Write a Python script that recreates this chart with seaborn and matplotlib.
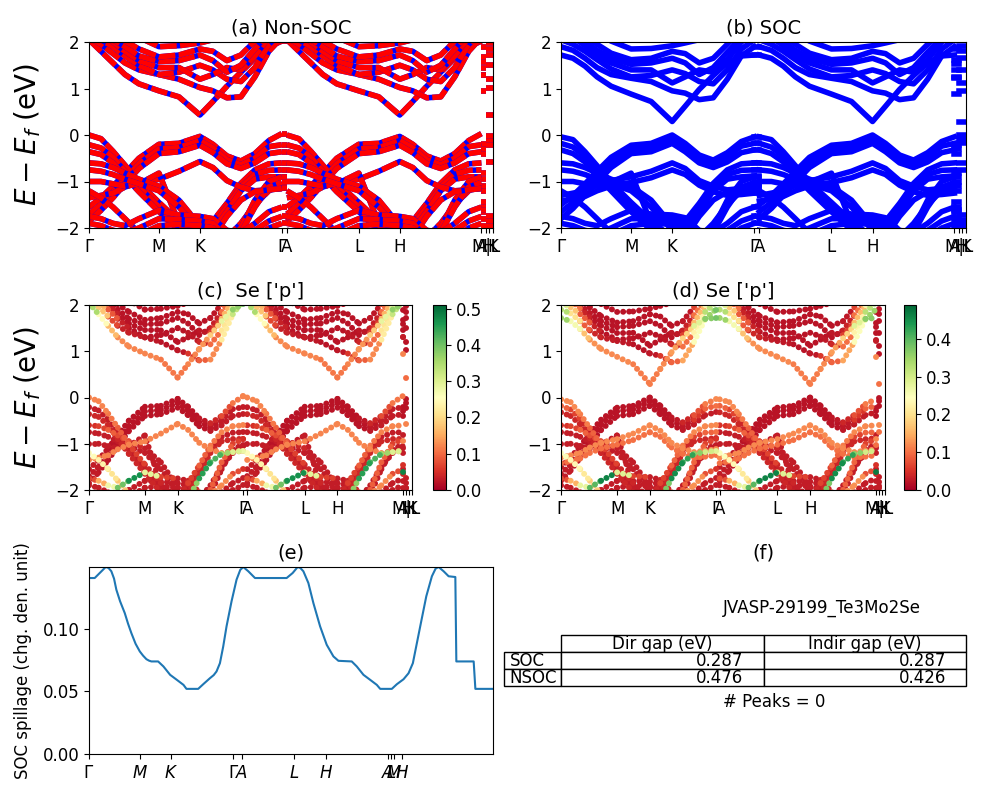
import numpy as np
import matplotlib
matplotlib.use("Agg")
import matplotlib.pyplot as plt
import seaborn as sns
from matplotlib.collections import LineCollection
from matplotlib.table import Table
from matplotlib.colors import Normalize
from matplotlib.cm import ScalarMappable

plt.rcParams['font.family'] = ['DejaVu Sans']
plt.rcParams['mathtext.fontset'] = 'dejavusans'

# ---------------- k-path (distance units) ----------------
K_SEG1 = [0, 12, 24, 36, 50, 70, 90, 111, 124, 138, 152, 166, 180, 193]          # G-M-K-G
K_SEG2 = [198, 210, 222, 234, 248, 270, 290, 311, 324, 338, 352, 366, 380, 392.7]  # A-L-H-A
GA_STUB = [193, 198]
STUB_LM = [392.7, 397.0]
STUB_KH = [397.0, 404.3]
M_IDX, K_IDX = 5, 7
BAND_TICKS = [0, 70, 111, 193, 198, 270, 311, 392.7, 397.0, 400.3, 404.3]
BAND_TICK_LABELS = ['Γ', 'M', 'K', 'Γ', 'A', 'L', 'H', 'A', 'M|L', 'H', 'K']

# ---------------- Non-SOC bands (eV) ----------------
NSOC_COND = [
    [2.05, 1.80, 1.55, 1.30, 1.10, 0.95, 0.82, 0.43, 0.72, 1.05, 1.35, 1.65, 1.90, 2.02],
    [2.10, 1.95, 1.75, 1.55, 1.40, 1.30, 1.20, 1.02, 0.95, 0.80, 0.82, 1.25, 1.80, 2.10],
    [2.20, 2.05, 1.90, 1.70, 1.50, 1.30, 1.35, 1.50, 1.40, 1.20, 1.15, 1.45, 1.95, 2.20],
    [2.30, 2.20, 2.00, 1.80, 1.60, 1.45, 1.45, 1.20, 1.30, 1.45, 1.40, 1.70, 2.10, 2.30],
    [2.40, 2.25, 2.05, 1.90, 1.70, 1.58, 1.60, 1.72, 1.60, 1.35, 1.50, 1.85, 2.20, 2.40],
    [2.50, 2.40, 2.20, 2.02, 1.85, 1.68, 1.72, 1.85, 1.80, 1.60, 1.72, 2.02, 2.30, 2.50],
    [2.60, 2.60, 2.50, 2.30, 2.10, 1.90, 1.92, 1.98, 2.05, 2.10, 2.20, 2.40, 2.60, 2.60],
]
NSOC_VAL = [
    [-1.55, -1.35, -1.10, -0.82, -0.50, -0.20, -0.18, -0.03, -0.20, -0.45, -0.56, -0.40, -0.12, 0.03],
    [-1.70, -1.50, -1.22, -0.95, -0.62, -0.30, -0.27, -0.12, -0.28, -0.53, -0.64, -0.50, -0.25, -0.21],
    [-1.85, -1.62, -1.35, -1.05, -0.72, -0.40, -0.36, -0.22, -0.38, -0.62, -0.72, -0.60, -0.40, -0.36],
    [0.00, -0.08, -0.35, -0.65, -1.02, -1.45, -1.85, -2.20, -1.85, -1.47, -1.04, -0.75, -0.62, -0.60],
    [-0.21, -0.28, -0.48, -0.78, -1.12, -1.55, -1.95, -2.30, -1.95, -1.55, -1.12, -0.85, -0.76, -0.75],
    [-0.36, -0.42, -0.60, -0.90, -1.22, -1.65, -2.05, -2.40, -2.05, -1.65, -1.20, -0.95, -0.90, -0.90],
    [-1.35, -1.30, -1.25, -1.12, -1.02, -0.95, -0.78, -0.57, -0.70, -0.98, -1.12, -1.20, -1.18, -1.15],
    [-1.00, -1.00, -1.05, -1.10, -1.05, -0.82, -1.90, -2.30, -2.30, -2.20, -1.90, -1.50, -1.20, -1.05],
    [-0.60, -0.62, -0.70, -0.82, -0.95, -1.10, -1.40, -1.95, -2.30, -2.30, -2.00, -1.40, -1.00, -0.90],
    [-0.75, -0.78, -0.85, -0.95, -1.05, -1.20, -1.55, -2.05, -2.30, -2.30, -2.10, -1.55, -1.12, -1.02],
    [-1.20, -1.35, -1.55, -1.80, -2.10, -2.30, -2.40, -2.40, -2.20, -1.75, -1.40, -1.22, -1.18, -1.15],
    [-1.75, -1.80, -1.90, -1.95, -1.80, -1.62, -1.72, -1.75, -1.80, -2.05, -2.10, -1.90, -1.65, -1.55],
    [-1.90, -1.95, -2.05, -2.10, -2.00, -1.80, -1.82, -1.85, -1.90, -2.20, -2.30, -2.05, -1.85, -1.75],
    [-2.05, -2.10, -2.20, -2.25, -2.15, -1.95, -1.92, -1.95, -2.00, -2.30, -2.40, -2.20, -2.00, -1.90],
]

# ---------------- SOC bands (eV) ----------------
SOC_COND = [
    [1.72, 1.65, 1.48, 1.25, 1.05, 0.88, 0.72, 0.29, 0.62, 0.98, 1.28, 1.55, 1.70, 1.72],
    [1.90, 1.82, 1.65, 1.45, 1.30, 1.22, 1.15, 0.95, 0.90, 0.76, 0.80, 1.20, 1.70, 1.90],
    [2.05, 1.95, 1.80, 1.62, 1.42, 1.25, 1.28, 1.40, 1.32, 1.15, 1.10, 1.40, 1.85, 2.05],
    [2.20, 2.10, 1.92, 1.72, 1.55, 1.40, 1.40, 1.12, 1.25, 1.40, 1.35, 1.62, 2.00, 2.20],
    [2.30, 2.18, 2.00, 1.82, 1.65, 1.52, 1.55, 1.65, 1.55, 1.30, 1.45, 1.78, 2.10, 2.30],
    [2.40, 2.30, 2.12, 1.95, 1.76, 1.62, 1.65, 1.80, 1.75, 1.55, 1.65, 1.95, 2.25, 2.40],
    [2.60, 2.55, 2.40, 2.20, 2.02, 1.85, 1.86, 1.92, 1.98, 2.05, 2.15, 2.35, 2.55, 2.60],
]
SOC_VAL = [
    [-1.50, -1.30, -1.05, -0.78, -0.48, -0.22, -0.18, 0.00, -0.18, -0.43, -0.54, -0.38, -0.14, -0.04],
    [-1.65, -1.45, -1.18, -0.90, -0.58, -0.30, -0.26, -0.08, -0.26, -0.50, -0.62, -0.48, -0.24, -0.18],
    [-1.80, -1.58, -1.30, -1.02, -0.70, -0.40, -0.36, -0.18, -0.36, -0.60, -0.70, -0.58, -0.38, -0.32],
    [-0.04, -0.10, -0.36, -0.66, -1.02, -1.45, -1.85, -2.20, -1.85, -1.47, -1.04, -0.75, -0.62, -0.60],
    [-0.18, -0.26, -0.46, -0.76, -1.10, -1.55, -1.95, -2.30, -1.95, -1.55, -1.12, -0.85, -0.76, -0.75],
    [-0.32, -0.40, -0.58, -0.88, -1.20, -1.65, -2.05, -2.40, -2.05, -1.65, -1.20, -0.95, -0.90, -0.88],
    [-1.30, -1.25, -1.20, -1.08, -0.98, -0.90, -0.78, -0.60, -0.72, -0.98, -1.10, -1.18, -1.15, -1.12],
    [-1.42, -1.38, -1.32, -1.20, -1.10, -1.02, -0.92, -0.75, -0.85, -1.08, -1.22, -1.30, -1.28, -1.25],
    [-1.00, -1.00, -1.05, -1.10, -1.02, -0.82, -1.90, -2.30, -2.30, -2.20, -1.90, -1.50, -1.20, -1.05],
    [-0.60, -0.62, -0.70, -0.82, -0.95, -1.10, -1.40, -1.95, -2.30, -2.30, -2.00, -1.40, -1.00, -0.90],
    [-0.75, -0.78, -0.85, -0.95, -1.05, -1.20, -1.55, -2.05, -2.30, -2.30, -2.10, -1.55, -1.12, -1.02],
    [-1.20, -1.35, -1.55, -1.80, -2.10, -2.30, -2.40, -2.40, -2.20, -1.75, -1.40, -1.22, -1.18, -1.15],
    [-1.75, -1.80, -1.90, -1.95, -1.80, -1.62, -1.70, -1.72, -1.78, -2.05, -2.10, -1.90, -1.65, -1.55],
    [-1.90, -1.95, -2.05, -2.10, -2.00, -1.80, -1.80, -1.82, -1.88, -2.20, -2.30, -2.05, -1.85, -1.75],
    [-2.05, -2.10, -2.20, -2.25, -2.15, -1.95, -1.90, -1.92, -1.98, -2.30, -2.40, -2.20, -2.00, -1.90],
]

# ---------------- Se p-orbital weights ----------------
NSOC_COND_W = [
    [0.40, 0.30, 0.20, 0.13, 0.12, 0.12, 0.12, 0.10, 0.12, 0.12, 0.15, 0.22, 0.35, 0.40],
    [0.35, 0.25, 0.10, 0.04, 0.03, 0.03, 0.02, 0.02, 0.03, 0.08, 0.10, 0.15, 0.30, 0.35],
    [0.30, 0.20, 0.12, 0.05, 0.02, 0.02, 0.02, 0.02, 0.02, 0.03, 0.05, 0.15, 0.28, 0.30],
    [0.28, 0.15, 0.05, 0.02, 0.02, 0.02, 0.02, 0.02, 0.02, 0.02, 0.03, 0.10, 0.22, 0.28],
    [0.20, 0.10, 0.03, 0.02, 0.02, 0.02, 0.02, 0.02, 0.02, 0.02, 0.02, 0.05, 0.15, 0.20],
    [0.15, 0.05, 0.02, 0.02, 0.02, 0.02, 0.02, 0.02, 0.02, 0.02, 0.02, 0.03, 0.10, 0.15],
    [0.10, 0.03, 0.02, 0.02, 0.02, 0.02, 0.02, 0.02, 0.02, 0.02, 0.02, 0.02, 0.05, 0.10],
]
NSOC_VAL_W = [
    [0.03, 0.03, 0.02, 0.02, 0.02, 0.02, 0.02, 0.02, 0.02, 0.02, 0.03, 0.05, 0.10, 0.12],
    [0.03, 0.03, 0.02, 0.02, 0.02, 0.02, 0.02, 0.02, 0.02, 0.02, 0.02, 0.03, 0.03, 0.03],
    [0.03, 0.03, 0.02, 0.02, 0.02, 0.02, 0.02, 0.02, 0.02, 0.02, 0.02, 0.03, 0.03, 0.03],
    [0.12, 0.12, 0.12, 0.10, 0.08, 0.05, 0.03, 0.03, 0.05, 0.08, 0.10, 0.12, 0.12, 0.12],
    [0.03, 0.03, 0.03, 0.03, 0.03, 0.03, 0.03, 0.03, 0.03, 0.03, 0.03, 0.03, 0.03, 0.03],
    [0.04, 0.04, 0.04, 0.04, 0.04, 0.04, 0.04, 0.04, 0.04, 0.04, 0.04, 0.04, 0.04, 0.04],
    [0.12, 0.12, 0.12, 0.12, 0.12, 0.12, 0.12, 0.12, 0.12, 0.12, 0.12, 0.12, 0.12, 0.12],
    [0.03, 0.03, 0.03, 0.03, 0.03, 0.03, 0.03, 0.03, 0.03, 0.03, 0.03, 0.03, 0.03, 0.03],
    [0.05, 0.05, 0.08, 0.10, 0.05, 0.03, 0.03, 0.03, 0.03, 0.05, 0.08, 0.10, 0.08, 0.05],
    [0.03, 0.03, 0.03, 0.03, 0.03, 0.03, 0.03, 0.03, 0.03, 0.03, 0.03, 0.03, 0.03, 0.03],
    [0.25, 0.25, 0.22, 0.20, 0.15, 0.10, 0.05, 0.05, 0.30, 0.45, 0.45, 0.40, 0.32, 0.28],
    [0.05, 0.10, 0.20, 0.35, 0.45, 0.48, 0.10, 0.03, 0.03, 0.05, 0.10, 0.15, 0.10, 0.05],
    [0.03, 0.03, 0.03, 0.03, 0.03, 0.03, 0.03, 0.03, 0.03, 0.03, 0.03, 0.03, 0.03, 0.03],
    [0.03, 0.03, 0.03, 0.03, 0.03, 0.03, 0.03, 0.03, 0.03, 0.03, 0.03, 0.03, 0.03, 0.03],
]
SOC_COND_W = [
    [0.38, 0.32, 0.20, 0.13, 0.12, 0.12, 0.12, 0.10, 0.12, 0.12, 0.15, 0.22, 0.35, 0.38],
    [0.38, 0.28, 0.12, 0.05, 0.03, 0.03, 0.02, 0.02, 0.03, 0.08, 0.10, 0.18, 0.32, 0.38],
    [0.35, 0.22, 0.12, 0.05, 0.02, 0.02, 0.02, 0.02, 0.02, 0.03, 0.05, 0.15, 0.30, 0.35],
    [0.28, 0.15, 0.05, 0.02, 0.02, 0.02, 0.02, 0.02, 0.02, 0.02, 0.03, 0.10, 0.22, 0.28],
    [0.20, 0.10, 0.03, 0.02, 0.02, 0.02, 0.02, 0.02, 0.02, 0.02, 0.02, 0.05, 0.15, 0.20],
    [0.15, 0.05, 0.02, 0.02, 0.02, 0.02, 0.02, 0.02, 0.02, 0.02, 0.02, 0.03, 0.10, 0.15],
    [0.10, 0.03, 0.02, 0.02, 0.02, 0.02, 0.02, 0.02, 0.02, 0.02, 0.02, 0.02, 0.05, 0.10],
]
SOC_VAL_W = [
    [0.03, 0.03, 0.02, 0.02, 0.02, 0.02, 0.02, 0.02, 0.02, 0.02, 0.03, 0.05, 0.10, 0.12],
    [0.03, 0.03, 0.02, 0.02, 0.02, 0.02, 0.02, 0.02, 0.02, 0.02, 0.02, 0.03, 0.08, 0.10],
    [0.03, 0.03, 0.02, 0.02, 0.02, 0.02, 0.02, 0.02, 0.02, 0.02, 0.02, 0.03, 0.03, 0.03],
    [0.12, 0.12, 0.12, 0.10, 0.08, 0.05, 0.03, 0.03, 0.05, 0.08, 0.10, 0.12, 0.12, 0.12],
    [0.10, 0.08, 0.05, 0.03, 0.03, 0.03, 0.03, 0.03, 0.03, 0.03, 0.03, 0.05, 0.08, 0.10],
    [0.04, 0.04, 0.04, 0.04, 0.04, 0.04, 0.04, 0.04, 0.04, 0.04, 0.04, 0.04, 0.04, 0.04],
    [0.12, 0.12, 0.12, 0.12, 0.12, 0.12, 0.12, 0.12, 0.12, 0.12, 0.12, 0.12, 0.12, 0.12],
    [0.10, 0.10, 0.10, 0.10, 0.10, 0.10, 0.10, 0.10, 0.10, 0.10, 0.10, 0.10, 0.10, 0.10],
    [0.03, 0.03, 0.03, 0.03, 0.03, 0.03, 0.03, 0.03, 0.03, 0.03, 0.03, 0.03, 0.03, 0.03],
    [0.05, 0.05, 0.08, 0.10, 0.05, 0.03, 0.03, 0.03, 0.03, 0.05, 0.08, 0.10, 0.08, 0.05],
    [0.03, 0.03, 0.03, 0.03, 0.03, 0.03, 0.03, 0.03, 0.03, 0.03, 0.03, 0.03, 0.03, 0.03],
    [0.25, 0.25, 0.22, 0.20, 0.15, 0.10, 0.05, 0.05, 0.30, 0.45, 0.45, 0.40, 0.32, 0.28],
    [0.05, 0.10, 0.20, 0.35, 0.45, 0.47, 0.10, 0.03, 0.03, 0.05, 0.10, 0.15, 0.10, 0.05],
    [0.03, 0.03, 0.03, 0.03, 0.03, 0.03, 0.03, 0.03, 0.03, 0.03, 0.03, 0.03, 0.03, 0.03],
    [0.03, 0.03, 0.03, 0.03, 0.03, 0.03, 0.03, 0.03, 0.03, 0.03, 0.03, 0.03, 0.03, 0.03],
]
W_MAX_NSOC = 0.51
W_MAX_SOC = 0.49
CBAR_TICKS_NSOC = [0.0, 0.1, 0.2, 0.3, 0.4, 0.5]
CBAR_TICKS_SOC = [0.0, 0.1, 0.2, 0.3, 0.4]

# ---------------- SOC spillage ----------------
SPILL_X = [0.0, 5.7, 10.7, 16.7, 19.5, 22.3, 25.0, 27.3, 31.0, 35.7, 39.0, 42.3, 46.5,
           50.7, 54.0, 57.3, 60.0, 62.3, 69.0, 74.3, 81.0, 87.7, 94.3, 97.3, 109.0,
           114.0, 120.7, 124.5, 127.3, 130.7, 134.0, 137.3, 142.3, 147.3, 151.0, 154.0,
           159.0, 165.7, 197.3, 203.3, 208.3, 211.0, 214.0, 219.0, 224.0, 230.7, 237.3,
           244.0, 249.0, 262.3, 267.3, 274.0, 280.7, 287.3, 290.7, 302.3, 307.3, 314.0,
           319.0, 323.3, 327.3, 331.3, 336.7, 342.3, 346.0, 349.0, 354.0, 359.0, 365.7,
           366.7, 384.0, 385.7, 403.3]
SPILL_Y = [0.1405, 0.1405, 0.1445, 0.1493, 0.1485, 0.1459, 0.1400, 0.1312, 0.1220,
           0.1125, 0.1040, 0.0965, 0.0880, 0.0819, 0.0785, 0.0757, 0.0745, 0.0739,
           0.0739, 0.0699, 0.0632, 0.0592, 0.0552, 0.0520, 0.0520, 0.0557, 0.0605,
           0.0630, 0.0659, 0.0725, 0.0859, 0.1019, 0.1219, 0.1392, 0.1470, 0.1493,
           0.1459, 0.1405, 0.1405, 0.1445, 0.1493, 0.1485, 0.1459, 0.1365, 0.1205,
           0.1019, 0.0872, 0.0779, 0.0744, 0.0739, 0.0699, 0.0632, 0.0592, 0.0552,
           0.0520, 0.0520, 0.0557, 0.0597, 0.0645, 0.0725, 0.0885, 0.1045, 0.1259,
           0.1419, 0.1480, 0.1493, 0.1459, 0.1419, 0.1413, 0.0739, 0.0739, 0.0520,
           0.0520]
SPILL_TICKS = [0, 50.7, 82.3, 144.0, 152.3, 204.7, 236.7, 298.0, 301.4, 304.7, 312.4]
SPILL_TICK_LABELS = [r'$\Gamma$', '$M$', '$K$', r'$\Gamma$', '$A$', '$L$', '$H$',
                     '$A$', '$L$', '$M$', '$H$']

# ---------------- gap table ----------------
MATERIAL = 'JVASP-29199_Te3Mo2Se'
GAP_ROWS = ['SOC', 'NSOC']
GAP_COLS = ['Dir gap (eV)', 'Indir gap (eV)']
DIR_GAP = [0.287, 0.476]
INDIR_GAP = [0.287, 0.426]
N_PEAKS = 0

TICK_FS = 12


def pieces(vals):
    return [(K_SEG1, list(vals)),
            (GA_STUB, [vals[-1], vals[-1]]),
            (K_SEG2, list(vals)),
            (STUB_LM, [vals[M_IDX], vals[M_IDX]]),
            (STUB_KH, [vals[K_IDX], vals[K_IDX]])]


def fmt_band(ax, title):
    ax.set_xlim(0, 404.3)
    ax.set_ylim(-2, 2)
    ax.set_yticks([-2, -1, 0, 1, 2])
    ax.set_xticks(BAND_TICKS)
    ax.set_xticklabels(BAND_TICK_LABELS)
    ax.tick_params(labelsize=TICK_FS)
    ax.set_title(title, fontsize=14)


def dotted(ax, bands, weights, norm):
    segs, cols = [], []
    for b, w in zip(bands, weights):
        for (xs, ys), (_, ws) in zip(pieces(b), pieces(w)):
            for i in range(len(xs) - 1):
                segs.append([(xs[i], ys[i]), (xs[i + 1], ys[i + 1])])
                cols.append(0.5 * (ws[i] + ws[i + 1]))
    order = np.argsort(cols, kind='stable')
    segs = [segs[i] for i in order]
    cols = np.asarray(cols)[order]
    lc = LineCollection(segs, cmap='RdYlGn', norm=norm, linewidths=4.3,
                        linestyles=[(0, (0.01, 1.0))], capstyle='round')
    lc.set_array(cols)
    ax.add_collection(lc)


fig = plt.figure(figsize=(10, 8), dpi=100)

# (a) Non-SOC
ax_a = fig.add_axes([0.089, 0.715, 0.404, 0.2325])
for b in NSOC_COND + NSOC_VAL:
    for xs, ys in pieces(b):
        ax_a.plot(xs, ys, color='blue', lw=4, solid_capstyle='butt')
        ax_a.plot(xs, ys, color='red', lw=4, dashes=(3, 0.6), dash_capstyle='butt')
fmt_band(ax_a, '(a) Non-SOC')
ax_a.set_ylabel('$E-E_f$ (eV)', fontsize=20)
ax_a.yaxis.set_label_coords(-0.114, 0.5)

# (b) SOC
ax_b = fig.add_axes([0.561, 0.715, 0.405, 0.2325])
for b in SOC_COND + SOC_VAL:
    for xs, ys in pieces(b):
        ax_b.plot(xs, ys, color='blue', lw=4)
fmt_band(ax_b, '(b) SOC')

# (c) Se p projection, non-SOC
ax_c = fig.add_axes([0.089, 0.3875, 0.323, 0.23125])
norm_c = Normalize(0, W_MAX_NSOC)
dotted(ax_c, NSOC_COND + NSOC_VAL, NSOC_COND_W + NSOC_VAL_W, norm_c)
fmt_band(ax_c, "(c)  Se ['p']")
ax_c.set_ylabel('$E-E_f$ (eV)', fontsize=20)
ax_c.yaxis.set_label_coords(-0.142, 0.5)
cax_c = fig.add_axes([0.433, 0.3875, 0.013, 0.23125])
cb = fig.colorbar(ScalarMappable(norm=norm_c, cmap='RdYlGn'), cax=cax_c,
                  ticks=CBAR_TICKS_NSOC)
cb.ax.tick_params(labelsize=TICK_FS)

# (d) Se p projection, SOC
ax_d = fig.add_axes([0.561, 0.3875, 0.324, 0.23125])
norm_d = Normalize(0, W_MAX_SOC)
dotted(ax_d, SOC_COND + SOC_VAL, SOC_COND_W + SOC_VAL_W, norm_d)
fmt_band(ax_d, "(d) Se ['p']")
cax_d = fig.add_axes([0.904, 0.3875, 0.012, 0.23125])
cb = fig.colorbar(ScalarMappable(norm=norm_d, cmap='RdYlGn'), cax=cax_d,
                  ticks=CBAR_TICKS_SOC)
cb.ax.tick_params(labelsize=TICK_FS)

# (e) spillage
ax_e = fig.add_axes([0.089, 0.0575, 0.404, 0.23375])
sns.lineplot(x=SPILL_X, y=SPILL_Y, ax=ax_e, color='#1f77b4', lw=1.5, sort=False)
ax_e.set_xlim(0, 403.3)
ax_e.set_ylim(0, max(SPILL_Y))
ax_e.set_yticks([0.0, 0.05, 0.10])
ax_e.set_yticklabels(['0.00', '0.05', '0.10'])
ax_e.set_xticks(SPILL_TICKS)
ax_e.set_xticklabels(SPILL_TICK_LABELS)
ax_e.tick_params(labelsize=TICK_FS)
ax_e.set_title('(e)', fontsize=14)
ax_e.set_ylabel('SOC spillage (chg. den. unit)', fontsize=12)
ax_e.yaxis.set_label_coords(-0.141, 0.5)

# (f) table
ax_f = fig.add_axes([0.561, 0.0575, 0.405, 0.23375])
ax_f.axis('off')
ax_f.set_title('(f)', fontsize=14)
ax_f.text(0.4, 0.78, MATERIAL, fontsize=12, transform=ax_f.transAxes, va='center')
ax_f.text(0.4, 0.28, f'# Peaks = {N_PEAKS}', fontsize=12, transform=ax_f.transAxes, va='center')
tbl = Table(ax_f, bbox=[-0.1407, 0.3636, 1.1407, 0.2727])
widths = [57, 202.5, 202.5]
h = 1.0
c = tbl.add_cell(0, 0, widths[0], h, text='', loc='center')
c.visible_edges = ''
for j, name in enumerate(GAP_COLS):
    tbl.add_cell(0, j + 1, widths[j + 1], h, text=name, loc='center')
for i, rname in enumerate(GAP_ROWS):
    tbl.add_cell(i + 1, 0, widths[0], h, text=rname, loc='left')
    tbl.add_cell(i + 1, 1, widths[1], h, text=f'{DIR_GAP[i]:.3f}', loc='right')
    tbl.add_cell(i + 1, 2, widths[2], h, text=f'{INDIR_GAP[i]:.3f}', loc='right')
tbl.auto_set_font_size(False)
tbl.set_fontsize(12)
ax_f.add_table(tbl)

fig.savefig('out.png', dpi=100)
